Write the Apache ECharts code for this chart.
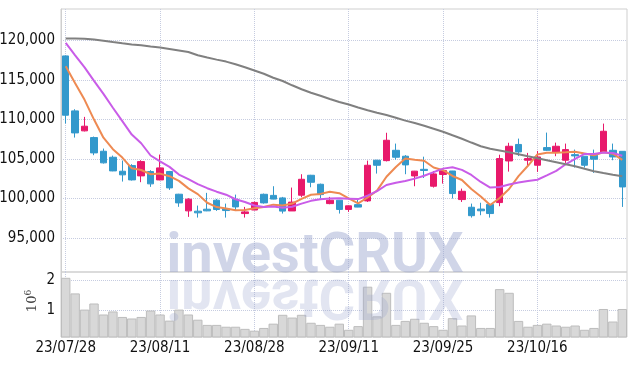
<!DOCTYPE html>
<html>
<head>
<meta charset="utf-8">
<script src="https://cdn.jsdelivr.net/npm/echarts@6/dist/echarts.min.js"></script>
<style>
  html, body { margin: 0; padding: 0; background: #fff; }
  #chart { width: 634px; height: 366px; }
</style>
</head>
<body>
<div id="chart"></div>
<script>
///////////////////////////////////////////////////
// Data
///////////////////////////////////////////////////
const dates = [
  '23/07/28', '23/07/31', '23/08/01', '23/08/02', '23/08/03', '23/08/04', '23/08/07', '23/08/08', '23/08/09', '23/08/10',
  '23/08/11', '23/08/14', '23/08/16', '23/08/17', '23/08/18', '23/08/21', '23/08/22', '23/08/23', '23/08/24', '23/08/25',
  '23/08/28', '23/08/29', '23/08/30', '23/08/31', '23/09/01', '23/09/04', '23/09/05', '23/09/06', '23/09/07', '23/09/08',
  '23/09/11', '23/09/12', '23/09/13', '23/09/14', '23/09/15', '23/09/18', '23/09/19', '23/09/20', '23/09/21', '23/09/22',
  '23/09/25', '23/09/26', '23/09/27', '23/10/04', '23/10/05', '23/10/06', '23/10/10', '23/10/11', '23/10/12', '23/10/13',
  '23/10/16', '23/10/17', '23/10/18', '23/10/19', '23/10/20', '23/10/23', '23/10/24', '23/10/25', '23/10/26', '23/10/27',
];

const openPrices = [
  118060, 111100, 108570, 107720, 105990, 105230, 103460, 104180, 102870, 103420,
  102360, 103420, 100550, 98440, 98400, 98650, 99790, 98690, 99910, 98100,
  98550, 100540, 100400, 100080, 98430, 100420, 102950, 101810, 99360, 99790,
  98620, 99230, 99700, 104850, 104800, 106110, 105360, 102860, 103700, 101560,
  103050, 103490, 99870, 98900, 98670, 99260, 99490, 104760, 106850, 104850,
  104220, 106450, 105900, 104850, 105560, 105360, 105480, 105900, 106110, 105980,
];
const closePrices = [
  110550, 108310, 109160, 105780, 104520, 103500, 103000, 102360, 104680, 101860,
  103880, 101350, 99450, 99920, 98190, 98440, 98610, 98480, 98940, 98310,
  99510, 99450, 99930, 98410, 99550, 102440, 102060, 100500, 99790, 98620,
  99080, 98920, 104215, 104215, 107380, 105230, 104260, 103470, 103550, 103120,
  103540, 100630, 100920, 97830, 98450, 98100, 105060, 106620, 105900, 105060,
  105270, 106110, 106620, 106200, 105400, 104220, 104980, 108520, 105270, 101470,
];
const lowPrices = [
  109500, 107720, 108500, 105490, 104430, 103460, 102150, 102280, 102070, 101480,
  102320, 101100, 98950, 97680, 97590, 98400, 98440, 97590, 98520, 97590,
  98520, 99360, 99900, 98100, 98430, 100170, 101430, 100000, 99280, 98100,
  98310, 98900, 99570, 103160, 104700, 104930, 103080, 101560, 102600, 101390,
  101890, 100000, 99570, 97590, 97890, 97590, 99030, 103410, 105380, 104220,
  103370, 106030, 105360, 104510, 103920, 103920, 103250, 105900, 104850, 98940,
];
const highPrices = [
  118100, 111310, 110340, 107850, 106330, 105440, 104810, 104350, 104850, 103590,
  105570, 103500, 100600, 100040, 99110, 100720, 99950, 99360, 100500, 98940,
  99620, 100630, 101560, 100210, 101390, 103080, 103000, 101890, 100210, 99790,
  99100, 100000, 104800, 104900, 108330, 106960, 105500, 103500, 105300, 103490,
  103580, 103500, 101260, 99360, 99470, 99280, 105550, 107060, 107590, 105780,
  106030, 108350, 107080, 106960, 106200, 105360, 106200, 109490, 106960, 105980,
];

// moving averages as drawn
const ma5 = [
  116740, 114600, 112500, 110000, 107700, 106250, 105190, 103830, 103610, 103080,
  103160, 102830, 102240, 101290, 100560, 99470, 98920, 98730, 98530, 98560,
  98770, 98940, 99230, 99120, 99370, 99960, 100480, 100590, 100870, 100680,
  100010, 99380, 100130, 101010, 102760, 103990, 105060, 104910, 104780, 103930,
  103590, 102860, 102350, 101210, 100270, 99190, 100070, 101210, 102830, 104150,
  105580, 105790, 105790, 105850, 105920, 105710, 105480, 105860, 105680, 104890,
];
const ma10 = [
  119700, 118140, 116600, 114900, 113250, 111500, 109800, 108100, 107000, 105450,
  104710, 104010, 103040, 102450, 101820, 101310, 100870, 100490, 99910, 99560,
  99120, 98930, 98980, 98830, 98960, 99360, 99710, 99910, 100000, 100030,
  99980, 99930, 100360, 100940, 101720, 102000, 102220, 102520, 102890, 103340,
  103790, 103960, 103630, 102990, 102100, 101390, 101470, 101780, 102020, 102210,
  102380, 102930, 103500, 104340, 105030, 105650, 105640, 105830, 105770, 105410,
];
const ma60 = [
  120260, 120260, 120230, 120130, 119980, 119810, 119660, 119520, 119410, 119260,
  119120, 118930, 118740, 118550, 118140, 117860, 117590, 117340, 117000, 116620,
  116220, 115800, 115290, 114880, 114340, 113840, 113390, 113010, 112610, 112230,
  111900, 111520, 111180, 110860, 110570, 110230, 109870, 109560, 109210, 108840,
  108460, 108010, 107570, 107090, 106620, 106300, 106080, 105860, 105610, 105350,
  105100, 104850, 104600, 104340, 104090, 103770, 103460, 103230, 103010, 102820,
];

const volumes = [
  2070000, 1560000, 1030000, 1230000, 870000, 970000, 790000, 740000, 790000, 1000000,
  870000, 670000, 1030000, 870000, 700000, 530000, 530000, 470000, 470000, 400000,
  340000, 430000, 570000, 860000, 770000, 860000, 600000, 530000, 470000, 570000,
  370000, 490000, 1780000, 810000, 1580000, 530000, 660000, 730000, 600000, 490000,
  370000, 750000, 510000, 840000, 430000, 430000, 1700000, 1580000, 660000, 470000,
  530000, 570000, 510000, 470000, 510000, 370000, 430000, 1050000, 640000, 1050000,
];

const priceTicks = [95000, 100000, 105000, 110000, 115000, 120000];
const volumeTicks = [1000000, 2000000];

///////////////////////////////////////////////////
// Chart
///////////////////////////////////////////////////
const candles = openPrices.map((o, i) => [o, closePrices[i], lowPrices[i], highPrices[i]]);

const FONT = '"Liberation Sans Narrow", "DejaVu Sans Condensed", sans-serif';
const UP = '#e8196b';
const DOWN = '#3399cc';
const dotted = { show: true, lineStyle: { color: '#c6cce0', type: 'dotted', width: 1 } };
const vSplit = { show: true, interval: 9, alignWithLabel: true, lineStyle: { color: '#c6cce0', type: 'dotted', width: 1 } };
const tickFont = { color: '#111111', fontFamily: FONT, fontSize: 15 };

const myChart = echarts.init(document.getElementById('chart'), null, { renderer: 'canvas' });

myChart.setOption({
  animation: false,
  backgroundColor: '#ffffff',
  grid: [
    {
      left: 61, right: 7, top: 9, height: 263, containLabel: false, outerBoundsMode: 'none',
      show: true, borderColor: '#cfcfcf', borderWidth: 1,
    },
    {
      left: 61, right: 7, top: 272, height: 65, containLabel: false, outerBoundsMode: 'none',
      show: true, borderColor: '#cfcfcf', borderWidth: 1,
    },
  ],
  xAxis: [
    {
      type: 'category', gridIndex: 0, data: dates, boundaryGap: true,
      axisLine: { show: false }, axisTick: { show: false }, axisLabel: { show: false },
      splitLine: vSplit,
    },
    {
      type: 'category', gridIndex: 1, data: dates, boundaryGap: true,
      axisLine: { show: false }, axisTick: { show: false },
      axisLabel: Object.assign({ show: true, interval: 9, margin: 4 }, tickFont),
      splitLine: vSplit,
    },
  ],
  yAxis: [
    {
      type: 'value', gridIndex: 0, min: 90700, max: 124000,
      axisLine: { show: true, lineStyle: { color: '#cfcfcf' } },
      axisTick: { show: false, customValues: priceTicks },
      axisLabel: Object.assign({ customValues: priceTicks, margin: 6 }, tickFont),
      splitLine: dotted,
    },
    {
      type: 'value', gridIndex: 1, min: 134000, max: 2260000,
      axisLine: { show: true, lineStyle: { color: '#cfcfcf' } },
      axisTick: { show: false, customValues: volumeTicks },
      axisLabel: Object.assign({
        customValues: volumeTicks, margin: 6,
        formatter: (v) => String(v / 1000000),
      }, tickFont),
      splitLine: dotted,
    },
  ],
  series: [
    {
      name: 'price', type: 'candlestick', xAxisIndex: 0, yAxisIndex: 0, data: candles,
      barWidth: 7,
      itemStyle: { color: UP, color0: DOWN, borderColor: UP, borderColor0: DOWN, borderWidth: 1 },
    },
    {
      name: 'MA5', type: 'line', data: ma5, symbol: 'none', smooth: false,
      lineStyle: { color: '#ee8a52', width: 2 }, z: 3,
    },
    {
      name: 'MA10', type: 'line', data: ma10, symbol: 'none', smooth: false,
      lineStyle: { color: '#c95ce8', width: 2 }, z: 3,
    },
    {
      name: 'MA60', type: 'line', data: ma60, symbol: 'none', smooth: false,
      lineStyle: { color: '#808080', width: 2 }, z: 3,
    },
    {
      name: 'volume', type: 'bar', xAxisIndex: 1, yAxisIndex: 1, data: volumes,
      barCategoryGap: '0%',
      itemStyle: { color: '#d8d8d8', borderColor: '#bdbdbd', borderWidth: 1 },
    },
  ],
  graphic: [
    // axis unit of the volume panel
    {
      type: 'text', x: 33, y: 301, rotation: Math.PI / 2,
      style: {
        text: '{a|10}{b|6}', align: 'center', verticalAlign: 'middle',
        rich: {
          a: { fontFamily: '"DejaVu Serif", serif', fontSize: 13, fill: '#444' },
          b: { fontFamily: '"DejaVu Serif", serif', fontSize: 9, fill: '#444', padding: [0, 0, 8, 0] },
        },
      },
    },
    // watermark and its reflection
    {
      type: 'text', x: 315, y: 258, z: 100,
      style: {
        text: 'investCRUX', align: 'center', verticalAlign: 'middle',
        fontFamily: 'Roboto, sans-serif', fontWeight: 'bold', fontSize: 56,
        fill: 'rgba(150,162,205,0.45)',
      },
    },
    {
      type: 'text', x: 315, y: 294, scaleY: -1, z: 100,
      style: {
        text: 'investCRUX', align: 'center', verticalAlign: 'middle',
        fontFamily: 'Roboto, sans-serif', fontWeight: 'bold', fontSize: 56,
        fill: 'rgba(150,162,205,0.28)',
      },
    },
  ],
});
</script>
</body>
</html>
